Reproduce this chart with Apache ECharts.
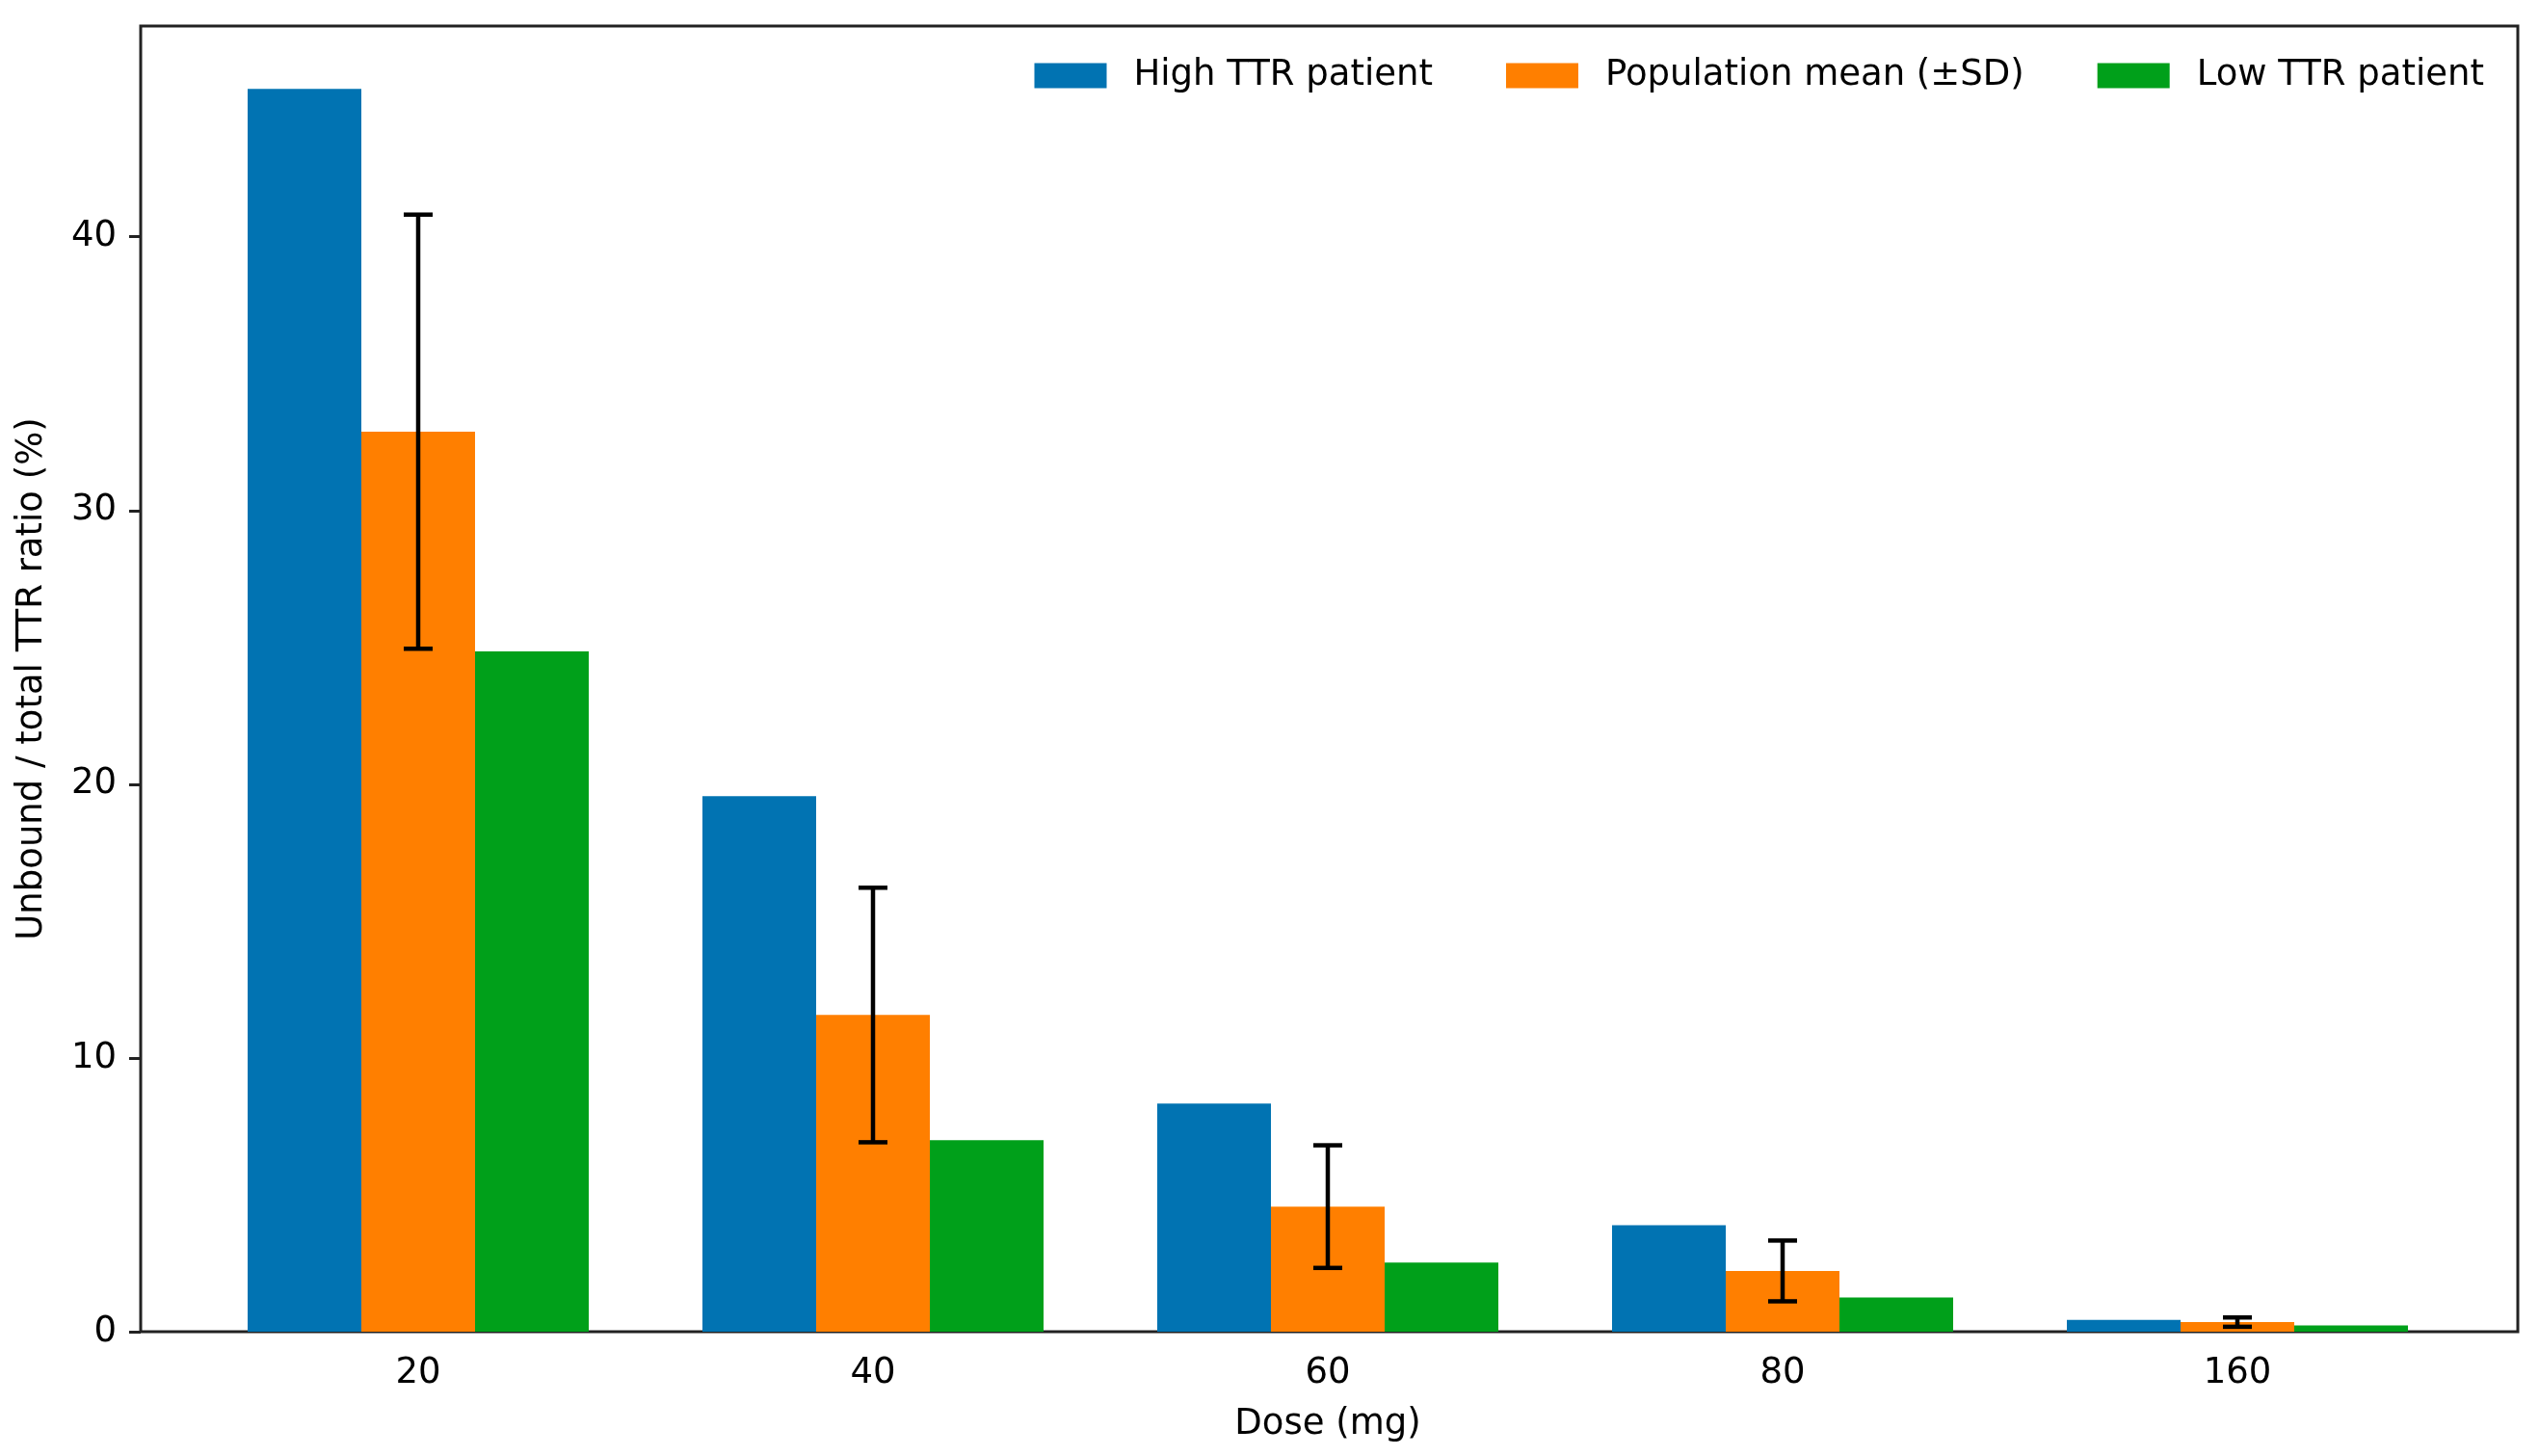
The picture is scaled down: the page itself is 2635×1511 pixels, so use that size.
<!DOCTYPE html>
<html>
<head>
<meta charset="utf-8">
<title>Unbound / total TTR ratio by dose</title>
<script src="https://cdn.jsdelivr.net/npm/echarts@6/dist/echarts.min.js"></script>
<style>
    html, body { margin: 0; padding: 0; background: #fff; }
    #chart { width: 2635px; height: 1511px; }
</style>
</head>
<body>
<div id="chart"></div>
<script>
// 剂量分组
var doses = ['20', '40', '60', '80', '160'];
// 三组数据 (%)
var highTTR = [45.4, 19.56, 8.33, 3.89, 0.43];
var popMean = [32.88, 11.57, 4.57, 2.22, 0.35];
var popSD = [7.93, 4.65, 2.24, 1.11, 0.17];
var lowTTR = [24.85, 7.0, 2.53, 1.25, 0.23];
// y轴刻度
var yTicks = [0, 10, 20, 30, 40];
var yMax = 47.7;

var seriesNames = ['High TTR patient', 'Population mean (\u00b1SD)', 'Low TTR patient'];
var colors = ['#0173b2', '#ff7f00', '#00a01a'];
var font = 'DejaVu Sans';

(function () {
    var chart = echarts.init(document.getElementById('chart'), null, { renderer: 'canvas' });

    // 误差线数据: [分组, 下限, 上限]
    var errData = popMean.map(function (m, i) {
        return [i, m - popSD[i], m + popSD[i]];
    });

    function renderErr(params, api) {
        var lo = api.coord([api.value(0), api.value(1)]);
        var hi = api.coord([api.value(0), api.value(2)]);
        var cap = 15;
        var style = { stroke: '#000', lineWidth: 4.5 };
        return {
            type: 'group',
            children: [
                { type: 'line', shape: { x1: hi[0], y1: hi[1], x2: lo[0], y2: lo[1] }, style: style },
                { type: 'line', shape: { x1: hi[0] - cap, y1: hi[1], x2: hi[0] + cap, y2: hi[1] }, style: style },
                { type: 'line', shape: { x1: lo[0] - cap, y1: lo[1], x2: lo[0] + cap, y2: lo[1] }, style: style }
            ]
        };
    }

    function barSeries(name, data, color) {
        return {
            name: name,
            type: 'bar',
            data: data,
            barWidth: '25%',
            barGap: '0%',
            itemStyle: { color: color },
            xAxisIndex: 0,
            yAxisIndex: 0
        };
    }

    var option = {
        animation: false,
        backgroundColor: '#fff',
        textStyle: { fontFamily: font },
        legend: {
            data: seriesNames,
            right: 52,
            top: 55,
            icon: 'rect',
            itemWidth: 75,
            itemHeight: 26,
            itemGap: 76,
            textStyle: { fontFamily: font, fontSize: 37, color: '#000', padding: [0, 0, 0, 23] }
        },
        grid: [
            // 柱子所在区域 (两端留出 matplotlib 的边距)
            { left: 198, right: 77, top: 27, bottom: 129, containLabel: false },
            // 外框
            { left: 146, right: 22, top: 27, bottom: 129, show: true, borderColor: '#222', borderWidth: 3, backgroundColor: 'transparent' }
        ],
        xAxis: [
            {
                type: 'category',
                gridIndex: 0,
                data: doses,
                name: 'Dose (mg)',
                nameLocation: 'middle',
                nameGap: 78,
                nameTextStyle: { fontFamily: font, fontSize: 37, color: '#000' },
                axisLine: { show: false },
                axisTick: { alignWithLabel: true, length: 12, lineStyle: { color: '#222', width: 3 } },
                axisLabel: { fontFamily: font, fontSize: 37, color: '#000', margin: 25 },
                splitLine: { show: false }
            },
            { type: 'value', gridIndex: 1, show: false }
        ],
        yAxis: [
            {
                type: 'value',
                gridIndex: 0,
                min: 0,
                max: yMax,
                offset: 52,
                name: 'Unbound / total TTR ratio (%)',
                nameLocation: 'middle',
                nameGap: 94,
                nameTextStyle: { fontFamily: font, fontSize: 37, color: '#000' },
                axisLine: { show: false },
                axisTick: { show: true, length: 12, customValues: yTicks, lineStyle: { color: '#222', width: 3 } },
                axisLabel: { fontFamily: font, fontSize: 37, color: '#000', margin: 25, customValues: yTicks },
                splitLine: { show: false }
            },
            { type: 'value', gridIndex: 1, show: false }
        ],
        series: [
            barSeries(seriesNames[0], highTTR, colors[0]),
            barSeries(seriesNames[1], popMean, colors[1]),
            barSeries(seriesNames[2], lowTTR, colors[2]),
            {
                name: 'SD',
                type: 'custom',
                xAxisIndex: 0,
                yAxisIndex: 0,
                data: errData,
                encode: { x: 0, y: [1, 2] },
                renderItem: renderErr,
                z: 10
            }
        ]
    };

    chart.setOption(option);
})();
</script>
</body>
</html>
